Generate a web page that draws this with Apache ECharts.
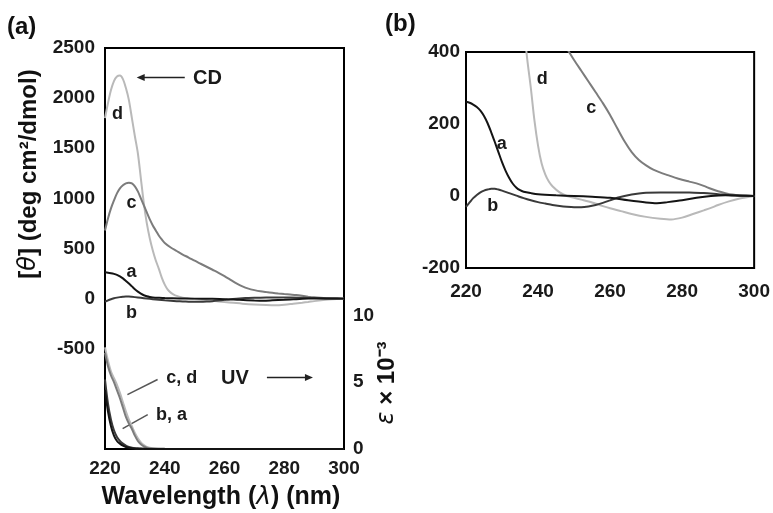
<!DOCTYPE html>
<html><head><meta charset="utf-8">
<script src="https://cdn.jsdelivr.net/npm/echarts@6/dist/echarts.min.js"></script>
<style>html,body{margin:0;padding:0;background:#fff}#c{width:773px;height:513px}</style>
</head><body><div id="c"></div>
<script>
// ---- CD data ([θ], deg cm2/dmol) ----
const lamA = [220,221,222,223,224,225,226,227,228,229,230,231,232,233,234,235,236,238,240,245,250,255,260,265,270,273,276,280,284,288,292,296,300];
const cdA  = [262,259,254,247,237,222,202,177,150,122,94,70,50,34,23,16,12,8,5,2,0,-2,-5,-12,-18,-20,-17,-12,-5,0,2,1,0];
const lamB = [220,221,222,223,224,225,226,227,228,229,230,232,234,236,238,240,242,244,246,248,250,252,254,256,258,260,262,264,266,268,270,274,278,282,286,290,294,300];
const cdB  = [-30,-18,-6,3,10,15,18,20,20,18,15,8,1,-6,-12,-17,-21,-25,-28,-30,-31,-31,-29,-25,-19,-12,-5,0,4,7,9,10,10,10,8,5,2,0];
const lamC = [220,221,222,223,224,225,226,227,228,229,230,231,232,233,234,235,236,237,238,239,240,242,244,246,248,250,252,254,256,258,260,262,264,266,268,270,272,274,276,278,280,282,284,286,288,290,292,294,296,300];
const cdC  = [680,800,900,980,1050,1100,1130,1150,1155,1150,1120,1070,1000,930,860,790,730,680,630,590,555,510,475,440,410,378,348,318,288,258,225,188,152,122,100,85,73,65,58,51,45,40,35,28,20,13,8,4,2,0];
const lamD = [220,221,222,223,224,225,226,227,228,229,230,231,232,233,234,235,236,237,238,239,240,241,242,243,244,246,248,250,252,255,258,260,263,266,270,274,277,280,283,286,288,290,293,296,300];
const cdD  = [1800,1950,2080,2170,2215,2225,2190,2100,1980,1800,1620,1450,1200,950,750,600,480,380,300,210,140,90,60,40,27,10,0,-5,-10,-18,-28,-34,-42,-50,-58,-63,-65,-60,-50,-40,-33,-25,-15,-7,0];
// ---- UV data (ε × 10^-3) ----
const lamUV = [220,221,222,223,224,225,226,227,228,229,230,231,232,233,234,236,240,250,260,280,300];
const uvA = [4.4,2.8,1.7,1.0,0.6,0.4,0.25,0.15,0.1,0.06,0.04,0.03,0.02,0.01,0,0,0,0,0,0,0];
const uvB = [5.2,3.4,2.2,1.4,0.9,0.6,0.4,0.25,0.15,0.1,0.06,0.04,0.03,0.02,0.01,0,0,0,0,0,0];
const uvC = [7.2,6.2,5.5,5.0,4.4,3.8,3.1,2.4,1.9,1.5,1.0,0.6,0.35,0.2,0.1,0.04,0.01,0,0,0,0];
const uvD = [7.6,6.6,5.8,5.3,4.8,4.2,3.5,2.8,2.2,1.7,1.2,0.8,0.5,0.3,0.15,0.06,0.02,0,0,0,0];
// ---- axis ticks ----
const xTicks = [220,240,260,280,300];
const cdTicksA = [-500,0,500,1000,1500,2000,2500];
const uvTicks = [0,5,10];
const cdTicksB = [-200,0,200,400];

const colA = '#141414', colB = '#3a3a3a', colC = '#7c7c7c', colD = '#b9b9b9';
const FONT = 'Liberation Sans, Arial, sans-serif';
const zip = (xs, ys) => xs.map((x, i) => [x, ys[i]]);

const chart = echarts.init(document.getElementById('c'));
const tickLbl = {fontFamily: FONT, fontWeight: 'bold', fontSize: 19, color: '#1a1a1a'};
function xAx(gi, margin) {
  return {type: 'value', gridIndex: gi, min: 220, max: 300, interval: 20,
    axisLine: {show: false}, axisTick: {show: false}, splitLine: {show: false},
    axisLabel: Object.assign({margin: margin, formatter: v => xTicks.includes(v) ? String(v) : ''}, tickLbl)};
}
function line(name, xi, yi, data, color, w) {
  return {name, type: 'line', xAxisIndex: xi, yAxisIndex: yi, data, smooth: 0.3, symbol: 'none',
    clip: true, lineStyle: {color, width: w || 2}};
}
chart.setOption({
  backgroundColor: '#fff',
  animation: false,
  grid: [
    {left: 105, top: 48, width: 239, height: 401, show: true, borderColor: '#000', borderWidth: 2, backgroundColor: 'transparent'},
    {left: 466, top: 52, width: 290, height: 216, show: true, borderColor: '#000', borderWidth: 2, backgroundColor: 'transparent'}
  ],
  xAxis: [xAx(0, 10), xAx(1, 14)],
  yAxis: [
    {type: 'value', gridIndex: 0, min: -1500, max: 2500, interval: 500, axisLine: {show: false}, axisTick: {show: false}, splitLine: {show: false},
      axisLabel: Object.assign({margin: 10, formatter: v => cdTicksA.includes(v) ? String(v) : ''}, tickLbl)},
    {type: 'value', gridIndex: 0, position: 'right', min: 0, max: 30, interval: 5, axisLine: {show: false}, axisTick: {show: false}, splitLine: {show: false},
      axisLabel: Object.assign({margin: 9, formatter: v => uvTicks.includes(v) ? String(v) : ''}, tickLbl)},
    {type: 'value', gridIndex: 1, min: -200, max: 400, interval: 200, axisLine: {show: false}, axisTick: {show: false}, splitLine: {show: false},
      axisLabel: Object.assign({margin: 6, formatter: v => cdTicksB.includes(v) ? String(v) : ''}, tickLbl)}
  ],
  series: [
    line('CD d', 0, 0, zip(lamD, cdD), colD),
    line('CD c', 0, 0, zip(lamC, cdC), colC),
    line('CD b', 0, 0, zip(lamB, cdB), colB),
    line('CD a', 0, 0, zip(lamA, cdA), colA),
    line('UV d', 0, 1, zip(lamUV, uvD), colD),
    line('UV c', 0, 1, zip(lamUV, uvC), colC),
    line('UV b', 0, 1, zip(lamUV, uvB), colB),
    line('UV a', 0, 1, zip(lamUV, uvA), colA),
    line('CD d b', 1, 2, zip(lamD, cdD), colD),
    line('CD c b', 1, 2, zip(lamC, cdC), colC),
    line('CD b b', 1, 2, zip(lamB, cdB), colB),
    line('CD a b', 1, 2, zip(lamA, cdA), colA)
  ]
});

// ---- annotations (positions in data coordinates) ----
const labelsA = [['d', 224.2, 1845], ['c', 228.9, 950], ['a', 228.9, 265], ['b', 228.9, -145],
                 ['CD', 254.3, 2195], ['c, d', 245.7, -797], ['UV', 263.5, -797], ['b, a', 242.3, -1157]];
const labelsB = [['d', 241.2, 325], ['c', 254.8, 244], ['a', 229.9, 144], ['b', 227.4, -28]];
const segsA = [[237.6, -807, 227.5, -957], [234.3, -1157, 225.9, -1297]];
const arrowsA = [[246.7, 2205, 230.6, 2205], [274.2, -787, 289.6, -787]];

const P = (gi, x, y) => chart.convertToPixel({gridIndex: gi}, [x, y]);
const g = [];
const annFont = {fontFamily: FONT, fontWeight: 'bold', fontSize: 18, fill: '#1a1a1a'};
labelsA.forEach(([t, x, y]) => { const p = P(0, x, y); g.push({type: 'text', x: p[0], y: p[1], style: Object.assign({text: t, align: 'center', verticalAlign: 'middle'}, annFont, (t === 'CD' || t === 'UV') ? {fontSize: 20} : {})}); });
labelsB.forEach(([t, x, y]) => { const p = P(1, x, y); g.push({type: 'text', x: p[0], y: p[1], style: Object.assign({text: t, align: 'center', verticalAlign: 'middle'}, annFont)}); });
segsA.forEach(([x1, y1, x2, y2]) => { const a = P(0, x1, y1), b = P(0, x2, y2);
  g.push({type: 'line', shape: {x1: a[0], y1: a[1], x2: b[0], y2: b[1]}, style: {stroke: '#555', lineWidth: 1.5}}); });
arrowsA.forEach(([x1, y1, x2, y2]) => { const a = P(0, x1, y1), b = P(0, x2, y2);
  const dir = Math.sign(b[0] - a[0]);
  g.push({type: 'line', shape: {x1: a[0], y1: a[1], x2: b[0] - dir * 6, y2: b[1]}, style: {stroke: '#222', lineWidth: 1.5}});
  g.push({type: 'polygon', shape: {points: [[b[0], b[1]], [b[0] - dir * 8, b[1] - 3.5], [b[0] - dir * 8, b[1] + 3.5]]}, style: {fill: '#222'}}); });

// panel letters and axis titles
const ital = {fontFamily: 'DejaVu Sans, sans-serif', fontStyle: 'italic', fill: '#111'};
g.push({type: 'text', x: 7, y: 27, style: {text: '(a)', fontFamily: FONT, fontWeight: 'bold', fontSize: 24, fill: '#111', verticalAlign: 'middle'}});
g.push({type: 'text', x: 385, y: 24, style: {text: '(b)', fontFamily: FONT, fontWeight: 'bold', fontSize: 24, fill: '#111', verticalAlign: 'middle'}});
g.push({type: 'text', x: 221, y: 497, style: {text: '{n|Wavelength (}{i|λ}{n|) (nm)}', align: 'center', verticalAlign: 'middle',
  rich: {n: {fontFamily: FONT, fontWeight: 'bold', fontSize: 25, fill: '#111'}, i: Object.assign({fontSize: 25}, ital)}}});
g.push({type: 'text', x: 29, y: 174, rotation: Math.PI / 2, style: {text: '{n|[}{i|θ}{n|] (deg cm²/dmol)}', align: 'center', verticalAlign: 'middle',
  rich: {n: {fontFamily: FONT, fontWeight: 'bold', fontSize: 24, fill: '#111'}, i: Object.assign({fontSize: 24}, ital)}}});
g.push({type: 'text', x: 387, y: 383, rotation: Math.PI / 2, style: {text: '{i|ε}{n| × 10⁻³}', align: 'center', verticalAlign: 'middle',
  rich: {n: {fontFamily: FONT, fontWeight: 'bold', fontSize: 24, fill: '#111'}, i: Object.assign({fontSize: 24}, ital)}}});
chart.setOption({graphic: g});
</script></body></html>
